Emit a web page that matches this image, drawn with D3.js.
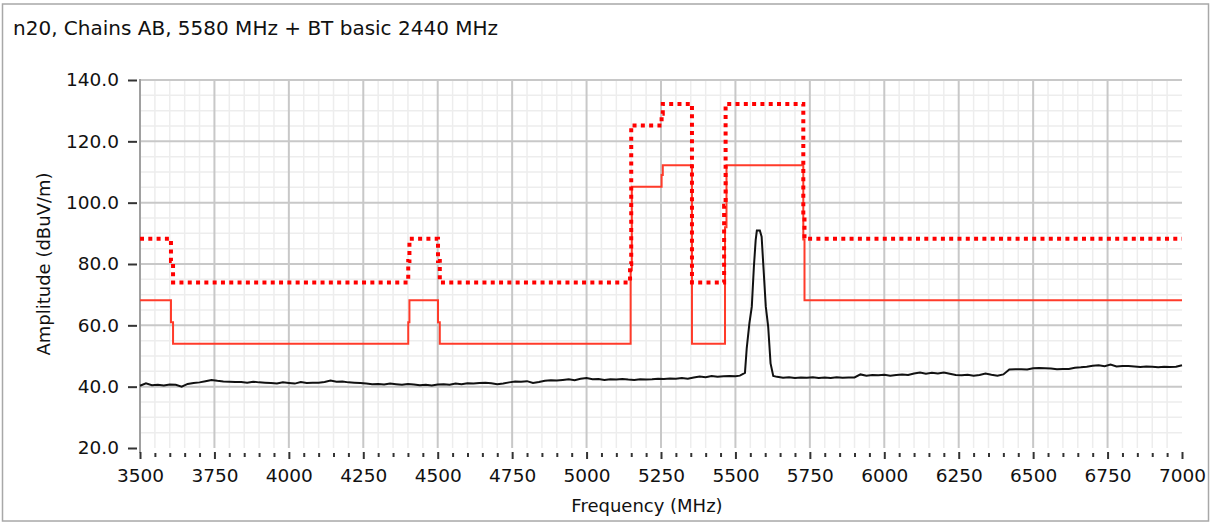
<!DOCTYPE html>
<html>
<head>
<meta charset="utf-8">
<script src="https://cdn.jsdelivr.net/npm/d3@7"></script>
<style>
  html, body { margin: 0; padding: 0; background: #fff; }
  svg { display: block; }
  text { font-family: "DejaVu Sans", Verdana, sans-serif; fill: #111; }
</style>
</head>
<body>
<svg id="chart" width="1211" height="523"></svg>
<script>
// Chart title and axis labels
const title = "n20, Chains AB, 5580 MHz + BT basic 2440 MHz";
const xLabel = "Frequency (MHz)";
const yLabel = "Amplitude (dBuV/m)";

// Axis ticks
const xTicks = [3500, 3750, 4000, 4250, 4500, 4750, 5000, 5250, 5500, 5750, 6000, 6250, 6500, 6750, 7000];
const yTicks = [20, 40, 60, 80, 100, 120, 140];

// Peak limit (solid red) breakpoints
const peakLimitFreq = [3500, 3604, 3604, 3611, 3611, 4401, 4401, 4405, 4405, 4501, 4501, 4507, 4507,
  5148, 5148, 5152, 5152, 5252, 5252, 5256, 5256, 5354, 5354, 5465, 5465, 5470, 5470, 5728, 5728, 5732, 5732, 7000];
const peakLimitVal = [68.2, 68.2, 61, 61, 54, 54, 61, 61, 68.2, 68.2, 61, 61, 54,
  54, 78, 78, 105.2, 105.2, 109, 109, 112.2, 112.2, 54, 54, 92, 92, 112.2, 112.2, 88, 88, 68.2, 68.2];

// Average limit (dotted red) breakpoints
const avgLimitFreq = [3500, 3604, 3604, 3611, 3611, 4401, 4401, 4405, 4405, 4501, 4501, 4507, 4507,
  5146, 5146, 5150, 5150, 5252, 5252, 5256, 5256, 5354, 5354, 5462, 5462, 5467, 5467, 5728, 5728, 5732, 5732, 7000];
const avgLimitVal = [88.2, 88.2, 81, 81, 74, 74, 81, 81, 88.2, 88.2, 81, 81, 74,
  74, 80, 80, 125.2, 125.2, 129, 129, 132.2, 132.2, 74, 74, 99, 99, 132.2, 132.2, 96, 96, 88.2, 88.2];

// Measured emission trace
const traceFreq = [3500, 3520, 3540, 3560, 3580, 3600, 3620, 3640, 3660, 3680, 3700, 3720, 3740, 3760, 3780,
  3800, 3820, 3840, 3860, 3880, 3900, 3920, 3940, 3960, 3980, 4000, 4020, 4040, 4060, 4080,
  4100, 4120, 4140, 4160, 4180, 4200, 4220, 4240, 4260, 4280, 4300, 4320, 4340, 4360, 4380,
  4400, 4420, 4440, 4460, 4480, 4500, 4520, 4540, 4560, 4580, 4600, 4620, 4640, 4660, 4680,
  4700, 4720, 4740, 4760, 4780, 4800, 4820, 4840, 4860, 4880, 4900, 4920, 4940, 4960, 4980,
  5000, 5020, 5040, 5060, 5080, 5100, 5120, 5140, 5160, 5180, 5200, 5220, 5240, 5260, 5280,
  5300, 5320, 5340, 5360, 5380, 5400, 5420, 5440, 5460, 5480, 5500, 5515, 5532, 5538, 5547,
  5555, 5562, 5568, 5572, 5582, 5588, 5594, 5602, 5610, 5618, 5627, 5640, 5660, 5680, 5700,
  5720, 5740, 5760, 5780, 5800, 5820, 5840, 5860, 5880, 5900, 5920, 5940, 5960, 5980, 6000,
  6020, 6040, 6060, 6080, 6100, 6120, 6140, 6160, 6180, 6200, 6220, 6240, 6260, 6280, 6300,
  6320, 6340, 6360, 6380, 6400, 6420, 6440, 6460, 6480, 6500, 6520, 6540, 6560, 6580, 6600,
  6620, 6640, 6660, 6680, 6700, 6720, 6740, 6760, 6780, 6800, 6820, 6840, 6860, 6880, 6900,
  6920, 6940, 6960, 6980, 7000];
const traceVal = [40.3, 41.1, 40.5, 40.6, 40.4, 40.7, 40.6, 40.0, 40.9, 41.2, 41.4, 41.8, 42.2, 41.9, 41.7,
  41.6, 41.5, 41.5, 41.3, 41.6, 41.4, 41.3, 41.2, 41.0, 41.4, 41.2, 41.0, 41.5, 41.2, 41.3,
  41.3, 41.5, 42.0, 41.6, 41.7, 41.4, 41.3, 41.2, 41.0, 40.8, 40.9, 40.7, 41.0, 40.8, 40.6,
  40.9, 40.7, 40.5, 40.6, 40.4, 40.7, 40.8, 40.6, 41.0, 40.8, 41.1, 41.0, 41.2, 41.3, 41.1,
  40.8, 41.0, 41.4, 41.7, 41.6, 41.8, 41.2, 41.5, 41.9, 42.1, 42.0, 42.2, 42.4, 42.1, 42.6,
  42.8, 42.4, 42.5, 42.2, 42.4, 42.3, 42.5, 42.3, 42.2, 42.4, 42.3, 42.4, 42.6, 42.5, 42.7,
  42.6, 42.8, 42.6, 43.0, 43.3, 43.1, 43.5, 43.2, 43.4, 43.5, 43.4, 43.6, 44.5, 52.6, 60.7,
  66.1, 79.1, 87.8, 90.9, 90.9, 88.9, 79.1, 66.1, 59.6, 47.6, 43.5, 43.2, 42.9, 43.1, 42.8,
  43.0, 42.9, 43.1, 42.8, 43.0, 42.8, 43.1, 42.9, 43.0, 43.0, 44.0, 43.6, 43.8, 43.7, 43.9,
  43.6, 43.8, 44.0, 43.8, 44.3, 44.6, 44.2, 44.5, 44.3, 44.6, 44.2, 43.8, 43.7, 43.9, 43.6,
  43.8, 44.3, 43.9, 43.6, 44.0, 45.6, 45.7, 45.7, 45.6, 46.0, 46.1, 46.0, 45.9, 45.7, 45.8,
  45.8, 46.2, 46.3, 46.5, 46.8, 47.0, 46.7, 47.2, 46.6, 46.7, 46.7, 46.6, 46.4, 46.6, 46.5,
  46.3, 46.5, 46.4, 46.5, 47.0];

const svg = d3.select("#chart");
const plot = { left: 140, right: 1182, top: 80, bottom: 448 };

const x = d3.scaleLinear().domain([3500, 7000]).range([plot.left, plot.right]);
const y = d3.scaleLinear().domain([20, 140]).range([plot.bottom, plot.top]);

// Outer frame
svg.append("rect")
  .attr("x", 2.5).attr("y", 4).attr("width", 1206).attr("height", 517)
  .attr("fill", "#fff").attr("stroke", "#a8a8a8").attr("stroke-width", 1.5);

// Title
svg.append("text")
  .attr("x", 13).attr("y", 35)
  .attr("font-size", 20)
  .text(title);

// Minor grid
const xMinor = d3.range(3550, 7000, 50).filter(v => v % 250 !== 0);
const yMinor = d3.range(25, 140, 5).filter(v => v % 20 !== 0);
const grid = svg.append("g");
grid.selectAll("line.xmin").data(xMinor).join("line")
  .attr("x1", d => x(d)).attr("x2", d => x(d))
  .attr("y1", plot.top).attr("y2", plot.bottom)
  .attr("stroke", "#ededed").attr("stroke-width", 1.5);
grid.selectAll("line.ymin").data(yMinor).join("line")
  .attr("x1", plot.left).attr("x2", plot.right)
  .attr("y1", d => y(d)).attr("y2", d => y(d))
  .attr("stroke", "#ededed").attr("stroke-width", 1.5);

// Major grid
grid.selectAll("line.xmaj").data(xTicks.slice(1, -1)).join("line")
  .attr("x1", d => x(d)).attr("x2", d => x(d))
  .attr("y1", plot.top).attr("y2", plot.bottom)
  .attr("stroke", "#c8c8c8").attr("stroke-width", 2);
grid.selectAll("line.ymaj").data(yTicks.slice(1)).join("line")
  .attr("x1", plot.left).attr("x2", plot.right)
  .attr("y1", d => y(d)).attr("y2", d => y(d))
  .attr("stroke", "#c8c8c8").attr("stroke-width", 2);

// Left axis line
svg.append("line")
  .attr("x1", plot.left).attr("x2", plot.left)
  .attr("y1", plot.top - 1).attr("y2", plot.bottom + 5)
  .attr("stroke", "#a0a0a0").attr("stroke-width", 2);

// Y axis
const yAxis = svg.append("g")
  .attr("transform", `translate(${plot.left - 3},0)`)
  .call(d3.axisLeft(y).tickValues(yTicks).tickSize(9).tickPadding(9).tickFormat(d3.format(".1f")));
yAxis.select(".domain").remove();
yAxis.selectAll(".tick line").attr("stroke", "#333").attr("stroke-width", 2);
yAxis.selectAll(".tick text").attr("font-size", 18.5).attr("fill", "#111")
  .attr("font-family", "DejaVu Sans, Verdana, sans-serif");

// X axis: minor ticks then major ticks with labels
const xAxisMinor = svg.append("g")
  .attr("transform", `translate(0,${plot.bottom + 5})`)
  .call(d3.axisBottom(x).tickValues(xMinor).tickSize(4).tickFormat(""));
xAxisMinor.select(".domain").remove();
xAxisMinor.selectAll(".tick line").attr("stroke", "#333").attr("stroke-width", 2);

const xAxis = svg.append("g")
  .attr("transform", `translate(0,${plot.bottom + 4})`)
  .call(d3.axisBottom(x).tickValues(xTicks).tickSize(7).tickPadding(10).tickFormat(d3.format("d")));
xAxis.select(".domain").remove();
xAxis.selectAll(".tick line").attr("stroke", "#333").attr("stroke-width", 2);
xAxis.selectAll(".tick text").attr("font-size", 18.5).attr("fill", "#111")
  .attr("font-family", "DejaVu Sans, Verdana, sans-serif");

// Axis titles
svg.append("text")
  .attr("x", 647).attr("y", 512)
  .attr("text-anchor", "middle").attr("font-size", 18)
  .text(xLabel);
svg.append("text")
  .attr("transform", `translate(50,${(plot.top + plot.bottom) / 2}) rotate(-90)`)
  .attr("text-anchor", "middle").attr("font-size", 18)
  .text(yLabel);

// Series
const line = d3.line().x(d => x(d[0])).y(d => y(d[1]));
const zip = (a, b) => a.map((v, i) => [v, b[i]]);

svg.append("path")
  .datum(zip(traceFreq, traceVal))
  .attr("d", line).attr("fill", "none")
  .attr("stroke", "#111").attr("stroke-width", 2).attr("stroke-linejoin", "miter");

svg.append("path")
  .datum(zip(peakLimitFreq, peakLimitVal))
  .attr("d", line).attr("fill", "none")
  .attr("stroke", "#ff3b2a").attr("stroke-width", 2);

svg.append("path")
  .datum(zip(avgLimitFreq, avgLimitVal))
  .attr("d", line).attr("fill", "none")
  .attr("stroke", "#ff0000").attr("stroke-width", 4)
  .attr("stroke-dasharray", "4 4.3");
</script>
</body>
</html>
